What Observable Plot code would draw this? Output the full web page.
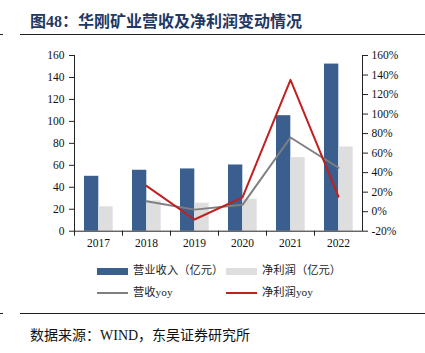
<!DOCTYPE html>
<html><head><meta charset="utf-8">
<script src="https://cdn.jsdelivr.net/npm/d3@7"></script>
<script src="https://cdn.jsdelivr.net/npm/@observablehq/plot@0.6"></script>
<style>
body{margin:0;background:#fff;}
#wrap{position:relative;width:425px;height:353px;overflow:hidden;font-family:'Liberation Serif','Times New Roman','Noto Sans CJK SC',serif;}
.abs{position:absolute;white-space:nowrap;}
#title{left:30px;top:8px;font-size:16px;font-weight:bold;color:#1F3864;font-family:'Liberation Serif','Noto Sans CJK SC',serif;}
.rule{position:absolute;height:1px;background:#222;}
.leg{font-size:11.3px;color:#222;line-height:12px;}
#src{left:30px;top:324px;font-size:14px;color:#111;}
</style></head>
<body><div id="wrap">
<div id="title" class="abs">图48：华刚矿业营收及净利润变动情况</div>
<div class="rule" style="left:20px;top:34px;width:405px;"></div>
<div class="rule" style="left:0px;top:34px;width:3px;"></div>
<div id="chart" class="abs" style="left:0;top:40px;"></div>
<div id="legend"></div>
<div class="rule" style="left:20px;top:313px;width:405px;"></div>
<div class="rule" style="left:0px;top:313px;width:3px;"></div>
<div id="src" class="abs">数据来源：WIND，东吴证券研究所</div>
</div>
<script>
const years = ["2017","2018","2019","2020","2021","2022"];
const revenue = [50, 55.5, 56.7, 60.3, 105.2, 152.2];
const netProfit = [22.2, 27.6, 25.5, 29.1, 67, 76.7];
const revYoy = [null, 10.6, 2.1, 7, 76, 45];
const npYoy = [null, 26.4, -8, 14.7, 135, 15.4];
const leftTicks = [0,20,40,60,80,100,120,140,160];
const rightTicks = [-20,0,20,40,60,80,100,120,140,160];
const seriesNames = ["营业收入（亿元）","净利润（亿元）","营收yoy","净利润yoy"];
const colors = ["#3A5F8F","#DEDEDE","#7F7F7F","#C0201E"];

const rows = years.map((y,i)=>({year:y, rev:revenue[i], np:netProfit[i], ry:revYoy[i], ny:npYoy[i]}));
const toLeft = p => (p + 20) * 160 / 180;
const fromLeft = v => v * 180 / 160 - 20;
const yoyRows = rows.filter(d => d.ry != null);

const chart = Plot.plot({
  width: 425, height: 210,
  marginLeft: 74, marginRight: 63, marginTop: 15, marginBottom: 19.3,
  style: {fontFamily: "'Liberation Serif','Times New Roman',serif", fontSize: "11.5px", color: "#111", background: "transparent"},
  x: {type: "band", domain: years, padding: 0, axis: null},
  y: {domain: [0, 160], axis: null},
  marks: [
    Plot.barY(rows, {x: "year", y: "rev", fill: colors[0], insetLeft: 10, insetRight: 23.7}),
    Plot.barY(rows, {x: "year", y: "np", fill: colors[1], insetLeft: 24.3, insetRight: 9.3}),
    Plot.line(yoyRows, {x: "year", y: d => toLeft(d.ry), stroke: colors[2], strokeWidth: 2}),
    Plot.line(yoyRows, {x: "year", y: d => toLeft(d.ny), stroke: colors[3], strokeWidth: 2}),
    Plot.ruleY([0], {stroke: "#222"}),
    Plot.frame({anchor: "left", stroke: "#222"}),
    Plot.frame({anchor: "right", stroke: "#222"}),
    Plot.axisY(leftTicks, {anchor: "left", tickSize: 5, tickPadding: 5, label: null, stroke: "#222"}),
    Plot.axisY(rightTicks.map(toLeft), {anchor: "right", tickSize: 5, tickPadding: 4, label: null, stroke: "#222",
      tickFormat: v => Math.round(fromLeft(v)) + "%"}),
    Plot.axisX({tickSize: 5, dx: -24, tickFormat: () => "", label: null, stroke: "#222"}),
    Plot.axisX({tickSize: 0, tickPadding: 8, label: null})
  ]
});
document.getElementById("chart").appendChild(chart);

const legend = document.getElementById("legend");
const items = [
  {name: seriesNames[0], color: colors[0], kind: "bar", x: 97, y: 271},
  {name: seriesNames[1], color: colors[1], kind: "bar", x: 226, y: 271},
  {name: seriesNames[2], color: colors[2], kind: "line", x: 97, y: 293},
  {name: seriesNames[3], color: colors[3], kind: "line", x: 226, y: 293}
];
for (const it of items) {
  const sw = document.createElement("div");
  sw.className = "abs";
  const h = it.kind === "bar" ? 7 : 2;
  sw.style.cssText = `left:${it.x}px;top:${it.y - h/2}px;width:31px;height:${h}px;background:${it.color};`;
  legend.appendChild(sw);
  const t = document.createElement("div");
  t.className = "abs leg";
  t.style.left = (it.x + 36) + "px";
  t.style.top = (it.y - 7) + "px";
  t.textContent = it.name;
  legend.appendChild(t);
}
</script>
</body></html>
